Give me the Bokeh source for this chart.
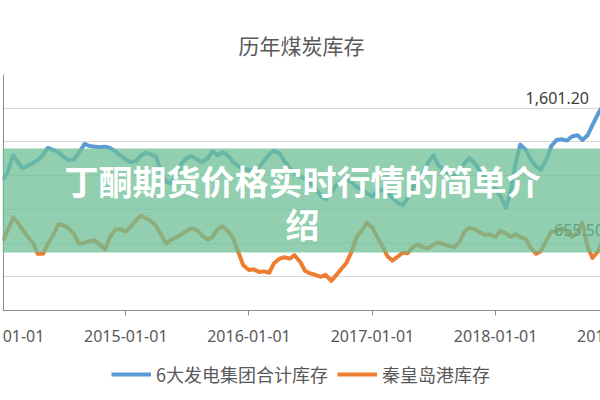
import pandas as pd
from bokeh.plotting import figure
from bokeh.models import (Range1d, FixedTicker, DatetimeTickFormatter, Legend,
                          LegendItem, Label, BoxAnnotation)
from bokeh.embed import file_html
from bokeh.resources import INLINE

# ---------------- data ----------------
title_text = "历年煤炭库存"
series_names = ["6大发电集团合计库存", "秦皇岛港库存"]
overlay_lines = ["丁酮期货价格实时行情的简单介", "绍"]

# semi-monthly observations, 2014-01-01 .. 2018-12-15
dates = pd.date_range("2014-01-01", periods=120, freq="SMS")

blue_vals = [
    970, 1020, 1150, 1100, 1055, 1070, 1095, 1115, 1155, 1205, 1190, 1175,
    1140, 1115, 1120, 1170, 1235, 1220, 1215, 1210, 1215, 1205, 1180, 1150,
    1120, 1100, 1110, 1150, 1170, 1160, 1140, 1030, 955, 945, 1010, 1090,
    1130, 1145, 1120, 1100, 1130, 1180, 1150, 1175, 1145, 1100, 1070, 1050,
    1040, 1045, 1065, 1110, 1160, 1185, 1165, 1110, 1055, 1020, 995, 975,
    950, 910, 850, 825, 870, 930, 960, 975, 950, 915, 895, 870,
    845, 885, 895, 875, 835, 800, 780, 830, 910, 975, 1030, 1100,
    1150, 1080, 1040, 1015, 1005, 1040, 1090, 1130, 1090, 1040, 985, 945,
    900, 850, 760, 890, 1090, 1230, 1190, 1120, 1070, 1045, 1120, 1220,
    1265, 1270, 1260, 1290, 1300, 1265, 1300, 1375, 1460, 1520, 1570, 1601.2,
]

orange_vals = [
    515, 590, 690, 650, 600, 550, 500, 420, 420, 495, 565, 640,
    630, 610, 565, 495, 500, 515, 520, 490, 455, 545, 600, 605,
    585, 620, 670, 705, 685, 665, 625, 565, 495, 525, 545, 565,
    590, 610, 595, 555, 525, 545, 605, 625, 585, 535, 430, 335,
    300, 305, 285, 290, 280, 350, 385, 395, 385, 410, 360, 295,
    275, 265, 250, 265, 220, 260, 310, 350, 440, 545, 595, 650,
    615, 545, 470, 400, 370, 395, 430, 425, 470, 490, 470, 460,
    490, 505, 490, 480, 470, 505, 585, 615, 600, 580, 560, 565,
    545, 590, 570, 545, 565, 545, 530, 465, 420, 440, 520, 585,
    585, 610, 580, 545, 580, 650, 470, 390, 440, 520, 600, 655.5,
]

year_ticks = ["2014-01-01", "2015-01-01", "2016-01-01", "2017-01-01",
              "2018-01-01", "2019-01-01"]
y_ticks = [0, 250, 500, 750, 1000, 1250, 1500, 1750]

blue_color = "#5b9bd5"
orange_color = "#ed7d31"
text_gray = "#595959"
axis_gray = "#8c8c8c"

# ---------------- layout (canvas pixels) ----------------
W, H = 600, 400
FRAME_L, FRAME_T = 2, 74          # frame runs to the right/bottom canvas edges
AXIS_Y = 310                       # pixel row of the value 0 (x axis line)
TICK_OUT = 5
LABEL_STANDOFF = 14
x_start = pd.Timestamp("2013-12-31 12:00")
x_end = pd.Timestamp("2018-11-07 21:00")
y_max = y_ticks[-1]
y_min = -y_max * (H - AXIS_Y) / (AXIS_Y - FRAME_T)


def ms(t):
    return pd.Timestamp(t).value / 1e6


def px_to_x(px):
    return ms(x_start) + (ms(x_end) - ms(x_start)) * (px - FRAME_L) / (W - FRAME_L)


def px_to_y(py):
    return y_max * (AXIS_Y - py) / (AXIS_Y - FRAME_T)


p = figure(width=W, height=H, x_axis_type="datetime",
           x_range=Range1d(x_start.to_pydatetime(), x_end.to_pydatetime()),
           y_range=Range1d(y_min, y_max),
           output_backend="svg", toolbar_location=None,
           min_border_left=FRAME_L, min_border_right=0,
           min_border_top=FRAME_T, min_border_bottom=0)
p.outline_line_color = None
p.background_fill_color = "white"
p.border_fill_color = "white"

# title
p.title.text = title_text
p.title.align = "center"
p.title.text_font = "Noto Sans CJK SC"
p.title.text_font_size = "21px"
p.title.text_font_style = "normal"
p.title.text_color = text_gray
p.title.standoff = 29

# grid
p.xgrid.visible = False
p.ygrid.ticker = FixedTicker(ticks=y_ticks)
p.ygrid.grid_line_color = "#d9d9d9"
p.ygrid.grid_line_width = 1

# vertical axis: only its line shows in the crop
p.yaxis.ticker = FixedTicker(ticks=[])
p.yaxis.fixed_location = px_to_x(FRAME_L + 0.5)
p.yaxis.bounds = (0, y_max)
p.yaxis.axis_line_color = axis_gray
p.yaxis.major_tick_out = 0
p.yaxis.minor_tick_out = 0

# x axis at value 0
p.xaxis.fixed_location = 0
p.xaxis.ticker = FixedTicker(ticks=[ms(t) for t in year_ticks[1:-1]])
fmt = "%Y-%m-%d"
p.xaxis.formatter = DatetimeTickFormatter(years=fmt, months=fmt, days=fmt, hours=fmt)
p.xaxis.major_tick_in = 0
p.xaxis.major_tick_out = TICK_OUT
p.xaxis.minor_tick_in = 0
p.xaxis.minor_tick_out = 0
p.xaxis.axis_line_color = axis_gray
p.xaxis.major_tick_line_color = axis_gray
p.xaxis.major_label_text_font = "Noto Sans"
p.xaxis.major_label_text_font_size = "16px"
p.xaxis.major_label_text_color = text_gray
p.xaxis.major_label_standoff = LABEL_STANDOFF

# edge years, clipped by the canvas like in the cropped original
for t in (year_ticks[0], year_ticks[-1]):
    p.add_layout(Label(x=ms(t), y=0, text=t,
                       text_align="center", text_baseline="top",
                       y_offset=-(TICK_OUT + LABEL_STANDOFF),
                       text_font="Noto Sans", text_font_size="16px",
                       text_color=text_gray))

# series
r_blue = p.line(dates, blue_vals, line_color=blue_color, line_width=4,
                line_join="round")
r_orange = p.line(dates, orange_vals, line_color=orange_color, line_width=4,
                  line_join="round")

# data label under the band
p.add_layout(Label(x=ms(dates[-1]), y=orange_vals[-1],
                   text=f"{orange_vals[-1]:,.2f}", text_align="left",
                   text_baseline="middle", x_offset=-59, y_offset=-8,
                   text_font="Noto Sans", text_font_size="16px",
                   text_color="#404040"))

# translucent green band and its headline
p.add_layout(BoxAnnotation(top=px_to_y(148), bottom=px_to_y(252),
                           fill_color="#6cbf96", fill_alpha=0.75,
                           line_color=None))
for txt, py in zip(overlay_lines, [180, 223]):
    p.add_layout(Label(x=px_to_x(302), y=px_to_y(py), text=txt,
                       text_align="center", text_baseline="middle",
                       text_font="Noto Sans CJK SC", text_font_size="34px",
                       text_font_style="bold", text_color="white"))

# data label for the blue series
p.add_layout(Label(x=ms(dates[-1]), y=blue_vals[-1],
                   text=f"{blue_vals[-1]:,.2f}", text_align="right",
                   text_baseline="middle", x_offset=-24, y_offset=-3,
                   text_font="Noto Sans", text_font_size="16px",
                   text_color="#404040"))

# legend under the axis labels
legend = Legend(items=[LegendItem(label=series_names[0], renderers=[r_blue]),
                       LegendItem(label=series_names[1], renderers=[r_orange])],
                orientation="horizontal", location=(109, 13),
                glyph_width=40, glyph_height=20, label_standoff=5, spacing=9,
                padding=0, margin=0, border_line_color=None,
                background_fill_alpha=0,
                label_text_font="Noto Sans CJK SC", label_text_font_size="18px",
                label_text_color=text_gray)
p.add_layout(legend, "center")

open("out.html", "w").write(file_html(p, INLINE))
